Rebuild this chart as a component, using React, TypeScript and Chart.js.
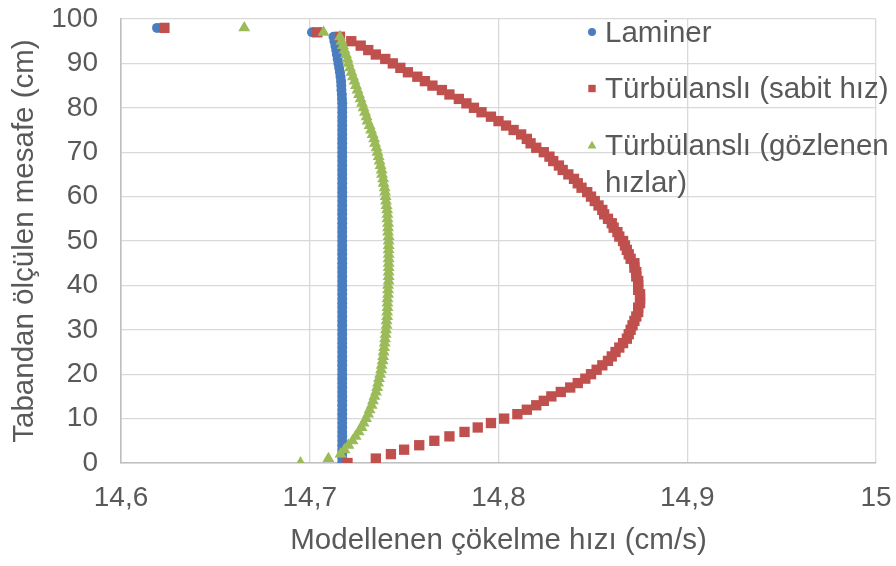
import React, { useEffect, useRef } from 'react';
import { Chart, registerables } from 'chart.js';

Chart.register(...registerables);

// Height above the bed (cm), one sample per centimetre
const HEIGHTS = [
  0, 1, 2, 3, 4, 5, 6, 7, 8, 9,
  10, 11, 12, 13, 14, 15, 16, 17, 18, 19,
  20, 21, 22, 23, 24, 25, 26, 27, 28, 29,
  30, 31, 32, 33, 34, 35, 36, 37, 38, 39,
  40, 41, 42, 43, 44, 45, 46, 47, 48, 49,
  50, 51, 52, 53, 54, 55, 56, 57, 58, 59,
  60, 61, 62, 63, 64, 65, 66, 67, 68, 69,
  70, 71, 72, 73, 74, 75, 76, 77, 78, 79,
  80, 81, 82, 83, 84, 85, 86, 87, 88, 89,
  90, 91, 92, 93, 94, 95, 96, 97, 98,
];

// Modelled settling velocity (cm/s) – laminar
const LAMINER = [
  14.7172, 14.7172, 14.7172, 14.7172, 14.7172, 14.7172, 14.7172, 14.7172, 14.7172, 14.7172,
  14.7172, 14.7172, 14.7172, 14.7172, 14.7172, 14.7172, 14.7172, 14.7172, 14.7172, 14.7172,
  14.7172, 14.7172, 14.7172, 14.7172, 14.7172, 14.7172, 14.7172, 14.7172, 14.7172, 14.7172,
  14.7172, 14.7172, 14.7172, 14.7172, 14.7172, 14.7172, 14.7172, 14.7172, 14.7172, 14.7172,
  14.7172, 14.7172, 14.7172, 14.7172, 14.7172, 14.7172, 14.7172, 14.7172, 14.7172, 14.7172,
  14.7172, 14.7172, 14.7172, 14.7172, 14.7172, 14.7172, 14.7172, 14.7172, 14.7172, 14.7172,
  14.7172, 14.7172, 14.7172, 14.7172, 14.7172, 14.7172, 14.7172, 14.7172, 14.7172, 14.7172,
  14.7172, 14.7172, 14.7172, 14.7172, 14.7172, 14.7172, 14.7172, 14.7172, 14.7172, 14.7172,
  14.7172, 14.7172, 14.7171, 14.7170, 14.7168, 14.7167, 14.7166, 14.7163, 14.7160, 14.7156,
  14.7152, 14.7148, 14.7144, 14.7140, 14.7136, 14.7131, 14.7126, 14.7012, 14.6191,
];

// Turbulent, constant velocity
const SABIT_HIZ = [
  14.720, 14.735, 14.743, 14.750, 14.758, 14.766, 14.774, 14.782, 14.789, 14.796,
  14.803, 14.810, 14.815, 14.820, 14.824, 14.828, 14.833, 14.838, 14.842, 14.846,
  14.849, 14.852, 14.855, 14.858, 14.860, 14.862, 14.864, 14.866, 14.868, 14.869,
  14.870, 14.871, 14.872, 14.873, 14.874, 14.874, 14.875, 14.875, 14.875, 14.874,
  14.874, 14.874, 14.873, 14.873, 14.872, 14.872, 14.870, 14.869, 14.868, 14.867,
  14.866, 14.864, 14.863, 14.861, 14.860, 14.858, 14.856, 14.855, 14.853, 14.851,
  14.849, 14.847, 14.844, 14.842, 14.840, 14.837, 14.834, 14.832, 14.829, 14.827,
  14.824, 14.820, 14.817, 14.815, 14.812, 14.808, 14.804, 14.800, 14.796, 14.791,
  14.787, 14.783, 14.779, 14.774, 14.770, 14.765, 14.761, 14.757, 14.752, 14.748,
  14.744, 14.740, 14.735, 14.731, 14.727, 14.722, 14.716, 14.704, 14.623,
];

// Turbulent, observed velocities
const GOZLENEN_HIZ = [
  14.6951, 14.7099, 14.7163, 14.7184, 14.7205, 14.7227, 14.7243, 14.7259, 14.7274, 14.7285,
  14.7298, 14.7309, 14.7317, 14.7328, 14.7335, 14.7343, 14.7351, 14.7357, 14.7362, 14.7367,
  14.7373, 14.7378, 14.7381, 14.7386, 14.7389, 14.7391, 14.7394, 14.7397, 14.7399, 14.7402,
  14.7404, 14.7407, 14.7407, 14.7410, 14.7410, 14.7412, 14.7412, 14.7412, 14.7415, 14.7415,
  14.7415, 14.7418, 14.7418, 14.7418, 14.7418, 14.7418, 14.7418, 14.7418, 14.7418, 14.7418,
  14.7418, 14.7418, 14.7415, 14.7415, 14.7415, 14.7412, 14.7412, 14.7410, 14.7407, 14.7404,
  14.7402, 14.7399, 14.7397, 14.7391, 14.7389, 14.7383, 14.7381, 14.7375, 14.7370, 14.7365,
  14.7359, 14.7354, 14.7346, 14.7341, 14.7333, 14.7325, 14.7317, 14.7306, 14.7301, 14.7293,
  14.7285, 14.7277, 14.7269, 14.7261, 14.7253, 14.7245, 14.7237, 14.7229, 14.7221, 14.7213,
  14.7205, 14.7200, 14.7192, 14.7184, 14.7176, 14.7168, 14.7160, 14.7073, 14.6653,
];

const X_TICKS = [14.6, 14.7, 14.8, 14.9, 15];
const Y_TICKS = [0, 10, 20, 30, 40, 50, 60, 70, 80, 90, 100];

const SERIES_NAMES = ['Laminer', 'Türbülanslı (sabit hız)', 'Türbülanslı (gözlenen hızlar)'];
const LEGEND_LINES = [['Laminer'], ['Türbülanslı (sabit hız)'], ['Türbülanslı (gözlenen', 'hızlar)']];

const X_TITLE = 'Modellenen çökelme hızı (cm/s)';
const Y_TITLE = 'Tabandan ölçülen mesafe (cm)';

const COLORS = ['#4A7DC0', '#C0504D', '#9BBB59'];
const POINT_STYLES = ['circle', 'rect', 'triangle'] as const;
const POINT_RADII = [5, 7.3, 6.9];

const FONT_FAMILY = '"Liberation Sans", Arial, sans-serif';
const TEXT_COLOR = '#595959';

const fmtComma = (v: number) => String(Number(v.toFixed(1))).replace('.', ',');

// Legend drawn inside the plot area, with the last entry wrapped on two lines
const insideLegend = {
  id: 'insideLegend',
  afterDatasetsDraw(chart: Chart) {
    const ctx = chart.ctx;
    const markerX = 592;
    const textX = 605;
    const baselines = [41.7, 98.3, 155];
    const lineGap = 36.7;
    ctx.save();
    ctx.font = `29.5px ${FONT_FAMILY}`;
    ctx.textBaseline = 'alphabetic';
    ctx.textAlign = 'left';
    LEGEND_LINES.forEach((lines, i) => {
      const base = baselines[i];
      const my = base - 9.8;
      ctx.fillStyle = COLORS[i];
      ctx.beginPath();
      if (POINT_STYLES[i] === 'circle') {
        ctx.arc(markerX, my, 4, 0, Math.PI * 2);
      } else if (POINT_STYLES[i] === 'rect') {
        ctx.rect(markerX - 3.7, my - 3.7, 7.4, 7.4);
      } else {
        ctx.moveTo(markerX, my - 4.5);
        ctx.lineTo(markerX + 4.5, my + 3.2);
        ctx.lineTo(markerX - 4.5, my + 3.2);
        ctx.closePath();
      }
      ctx.fill();
      ctx.fillStyle = TEXT_COLOR;
      lines.forEach((t, j) => ctx.fillText(t, textX, base + j * lineGap));
    });
    ctx.restore();
  },
};

export default function App() {
  const canvasRef = useRef<HTMLCanvasElement | null>(null);

  useEffect(() => {
    const canvas = canvasRef.current;
    if (!canvas) return;
    const seriesValues = [LAMINER, SABIT_HIZ, GOZLENEN_HIZ];
    const chart = new Chart(canvas, {
      type: 'scatter',
      data: {
        datasets: seriesValues.map((vals, i) => ({
          label: SERIES_NAMES[i],
          data: HEIGHTS.map((h, k) => ({ x: vals[k], y: h })),
          pointStyle: POINT_STYLES[i],
          pointRadius: POINT_RADII[i],
          pointHoverRadius: POINT_RADII[i],
          backgroundColor: COLORS[i],
          borderColor: COLORS[i],
          borderWidth: 0,
          showLine: false,
          order: 2 - i,
        })),
      },
      options: {
        animation: false,
        responsive: false,
        maintainAspectRatio: false,
        devicePixelRatio: 1,
        layout: { padding: { top: 19, right: 20, left: 0, bottom: 0 } },
        plugins: {
          legend: { display: false },
          tooltip: { enabled: false },
        },
        scales: {
          x: {
            type: 'linear',
            min: 14.6,
            max: 15,
            afterBuildTicks: (s: any) => {
              s.ticks = X_TICKS.map((v) => ({ value: v }));
            },
            afterFit: (s: any) => {
              s.height = 103;
              s.paddingLeft = 0;
              s.paddingRight = 0;
              s.paddingTop = 0;
              s.paddingBottom = 0;
            },
            grid: { color: '#d9d9d9', lineWidth: 1.3, drawTicks: false },
            border: { color: '#bfbfbf', width: 1.6 },
            ticks: {
              color: TEXT_COLOR,
              font: { family: FONT_FAMILY, size: 28 },
              padding: 18,
              maxRotation: 0,
              autoSkip: false,
              callback: (v: any) => fmtComma(Number(v)),
            },
            title: {
              display: true,
              text: X_TITLE,
              color: TEXT_COLOR,
              font: { family: FONT_FAMILY, size: 29.5 },
              padding: { top: 0, bottom: 7 },
            },
          },
          y: {
            type: 'linear',
            min: 0,
            max: 100,
            afterBuildTicks: (s: any) => {
              s.ticks = Y_TICKS.map((v) => ({ value: v }));
            },
            afterFit: (s: any) => {
              s.width = 121;
              s.paddingLeft = 0;
              s.paddingRight = 0;
              s.paddingTop = 0;
              s.paddingBottom = 0;
            },
            grid: { color: '#d9d9d9', lineWidth: 1.3, drawTicks: false },
            border: { color: '#bfbfbf', width: 1.6 },
            ticks: {
              color: TEXT_COLOR,
              font: { family: FONT_FAMILY, size: 28 },
              padding: 23,
              autoSkip: false,
              callback: (v: any) => String(v),
            },
            title: {
              display: true,
              text: Y_TITLE,
              color: TEXT_COLOR,
              font: { family: FONT_FAMILY, size: 29.5 },
              padding: { top: 7, bottom: 0 },
            },
          },
        },
      },
      plugins: [insideLegend],
    });
    return () => chart.destroy();
  }, []);

  return (
    <div style={{ position: 'fixed', left: 0, top: 0, width: 896, height: 566, background: '#ffffff' }}>
      <canvas ref={canvasRef} width={896} height={566} style={{ width: 896, height: 566, display: 'block' }} />
    </div>
  );
}
